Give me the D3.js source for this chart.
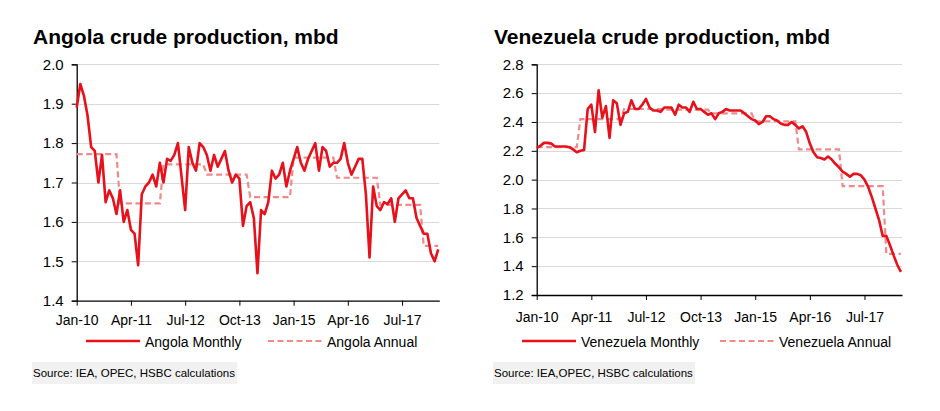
<!DOCTYPE html>
<html><head><meta charset="utf-8">
<script src="https://cdn.jsdelivr.net/npm/d3@7/dist/d3.min.js"></script>
<style>
body{margin:0;background:#fff}
svg{display:block}
text{font-family:"Liberation Sans",Arial,Helvetica,sans-serif;fill:#000}
</style>
</head><body>
<svg id="c" width="940" height="411"></svg>
<script>
// ---- Data ----
const tickMonths = [0, 15, 30, 45, 60, 75, 90];
const tickLabels = ["Jan-10", "Apr-11", "Jul-12", "Oct-13", "Jan-15", "Apr-16", "Jul-17"];
const years = [2010, 2011, 2012, 2013, 2014, 2015, 2016, 2017, 2018];

const angolaMonthly = [
  1.89,1.95,1.92,1.87,1.79,1.78,1.70,1.77,1.65,1.68,
  1.66,1.62,1.68,1.60,1.63,1.58,1.57,1.49,1.67,1.69,
  1.70,1.72,1.69,1.75,1.70,1.76,1.755,1.77,1.80,1.715,
  1.63,1.79,1.75,1.73,1.80,1.79,1.77,1.73,1.77,1.74,
  1.76,1.78,1.73,1.70,1.72,1.71,1.59,1.64,1.65,1.61,
  1.47,1.63,1.62,1.65,1.73,1.71,1.72,1.75,1.69,1.73,
  1.76,1.79,1.75,1.73,1.76,1.78,1.80,1.73,1.79,1.78,
  1.74,1.75,1.75,1.76,1.80,1.75,1.72,1.74,1.76,1.76,
  1.67,1.51,1.69,1.64,1.63,1.65,1.645,1.66,1.60,1.66,
  1.67,1.68,1.66,1.66,1.61,1.59,1.57,1.57,1.52,1.50,
  1.53
];
const angolaAnnual = [1.772, 1.647, 1.746, 1.72, 1.663, 1.763, 1.712, 1.643, 1.539];

const venezuelaMonthly = [
  2.22,2.235,2.255,2.255,2.25,2.23,2.23,2.23,2.23,2.225,
  2.21,2.19,2.20,2.205,2.49,2.52,2.33,2.62,2.43,2.51,
  2.29,2.55,2.53,2.38,2.46,2.47,2.55,2.49,2.49,2.52,
  2.56,2.50,2.48,2.48,2.47,2.50,2.50,2.50,2.45,2.52,
  2.50,2.50,2.47,2.54,2.49,2.49,2.47,2.45,2.46,2.42,
  2.46,2.47,2.49,2.48,2.48,2.48,2.48,2.46,2.44,2.42,
  2.41,2.385,2.40,2.44,2.44,2.42,2.41,2.39,2.38,2.38,
  2.40,2.38,2.355,2.37,2.33,2.25,2.19,2.155,2.15,2.14,
  2.16,2.14,2.11,2.085,2.055,2.04,2.02,2.04,2.04,2.03,
  2.00,1.95,1.88,1.80,1.72,1.61,1.61,1.545,1.475,1.41,
  1.36
];
const venezuelaAnnual = [2.225, 2.42, 2.49, 2.485, 2.46, 2.405, 2.21, 1.955, 1.485];

// ---- Drawing ----
const svg = d3.select("#c");
const RED = "#e8101a", PINK = "#f08a8a", GRID = "#d9d9d9";
const FONT = '"Liberation Sans",Arial,Helvetica,sans-serif';

function panel(cfg) {
  const g = svg.append("g");
  const x = d3.scaleLinear().domain([0, 100.3]).range([cfg.x0, cfg.x1]);
  const y = d3.scaleLinear().domain(cfg.yDomain).range([cfg.yb, cfg.yt]);

  // title
  g.append("text").attr("x", cfg.titleX).attr("y", 44)
    .attr("font-size", 21).attr("font-weight", "bold").text(cfg.title);

  // gridlines
  g.append("g").selectAll("line").data(cfg.yTicks.slice(1)).join("line")
    .attr("x1", cfg.x0).attr("x2", cfg.x1)
    .attr("y1", d => Math.round(y(d)) + 0.5).attr("y2", d => Math.round(y(d)) + 0.5)
    .attr("stroke", GRID).attr("stroke-width", 1.2);

  // y axis
  const ya = g.append("g").attr("transform", `translate(${cfg.x0},0)`)
    .call(d3.axisLeft(y).tickValues(cfg.yTicks).tickFormat(d3.format(".1f")).tickSize(5).tickPadding(8));
  ya.select(".domain").attr("stroke", "#000").attr("stroke-width", 1.3);
  ya.selectAll(".tick line").attr("stroke", "#000");
  ya.selectAll("text").attr("font-size", 15).attr("font-family", FONT);

  // x axis
  const xa = g.append("g").attr("transform", `translate(0,${cfg.yb})`)
    .call(d3.axisBottom(x).tickValues(tickMonths).tickFormat((d, i) => tickLabels[i]).tickSize(5).tickSizeOuter(0).tickPadding(cfg.xPad));
  xa.select(".domain").attr("stroke", "#000").attr("stroke-width", 1.3);
  xa.selectAll(".tick line").attr("stroke", "#000");
  xa.selectAll("text").attr("font-size", 14).attr("font-family", FONT);

  // annual values held across the months of each year
  const annualMonthly = cfg.monthly.map((v, i) => ({ i, v: cfg.annual[years.indexOf(2010 + Math.floor(i / 12))] }));
  const line = d3.line().x(d => x(d.i)).y(d => y(d.v));
  g.append("path").datum(annualMonthly).attr("d", line)
    .attr("fill", "none").attr("stroke", PINK).attr("stroke-width", 2.2)
    .attr("stroke-dasharray", "6,3.5");
  g.append("path").datum(cfg.monthly.map((v, i) => ({ i, v }))).attr("d", line)
    .attr("fill", "none").attr("stroke", RED).attr("stroke-width", 2.6)
    .attr("stroke-linejoin", "round");

  // legend
  const ly = 341;
  g.append("line").attr("x1", cfg.leg[0]).attr("x2", cfg.leg[0] + 54).attr("y1", ly).attr("y2", ly)
    .attr("stroke", RED).attr("stroke-width", 2.6);
  g.append("text").attr("x", cfg.leg[0] + 59).attr("y", ly + 5.5).attr("font-size", 14).text(cfg.names[0]);
  g.append("line").attr("x1", cfg.leg[1]).attr("x2", cfg.leg[1] + 54).attr("y1", ly).attr("y2", ly)
    .attr("stroke", PINK).attr("stroke-width", 2.2).attr("stroke-dasharray", "6,3.5");
  g.append("text").attr("x", cfg.leg[1] + 59).attr("y", ly + 5.5).attr("font-size", 14).text(cfg.names[1]);

  // source
  const rect = g.append("rect").attr("fill", "#f1f1f1");
  const st = g.append("text").attr("x", cfg.titleX).attr("y", 377).attr("font-size", 11.5).text(cfg.source);
  const bb = st.node().getBBox();
  rect.attr("x", bb.x - 1).attr("y", 362).attr("width", bb.width + 3).attr("height", 22);
}

panel({
  title: "Angola crude production, mbd", titleX: 33,
  x0: 76.7, x1: 439.3, yt: 64.3, yb: 300.7, yDomain: [1.4, 2.0],
  yTicks: [1.4, 1.5, 1.6, 1.7, 1.8, 1.9, 2.0], xPad: 9,
  monthly: angolaMonthly, annual: angolaAnnual,
  names: ["Angola Monthly", "Angola Annual"], leg: [86, 268],
  source: "Source: IEA, OPEC, HSBC calculations"
});
panel({
  title: "Venezuela crude production, mbd", titleX: 494,
  x0: 536.7, x1: 902, yt: 64.3, yb: 295, yDomain: [1.2, 2.8],
  yTicks: [1.2, 1.4, 1.6, 1.8, 2.0, 2.2, 2.4, 2.6, 2.8], xPad: 12,
  monthly: venezuelaMonthly, annual: venezuelaAnnual,
  names: ["Venezuela Monthly", "Venezuela Annual"], leg: [522, 720],
  source: "Source: IEA,OPEC, HSBC calculations"
});
</script>
</body></html>
